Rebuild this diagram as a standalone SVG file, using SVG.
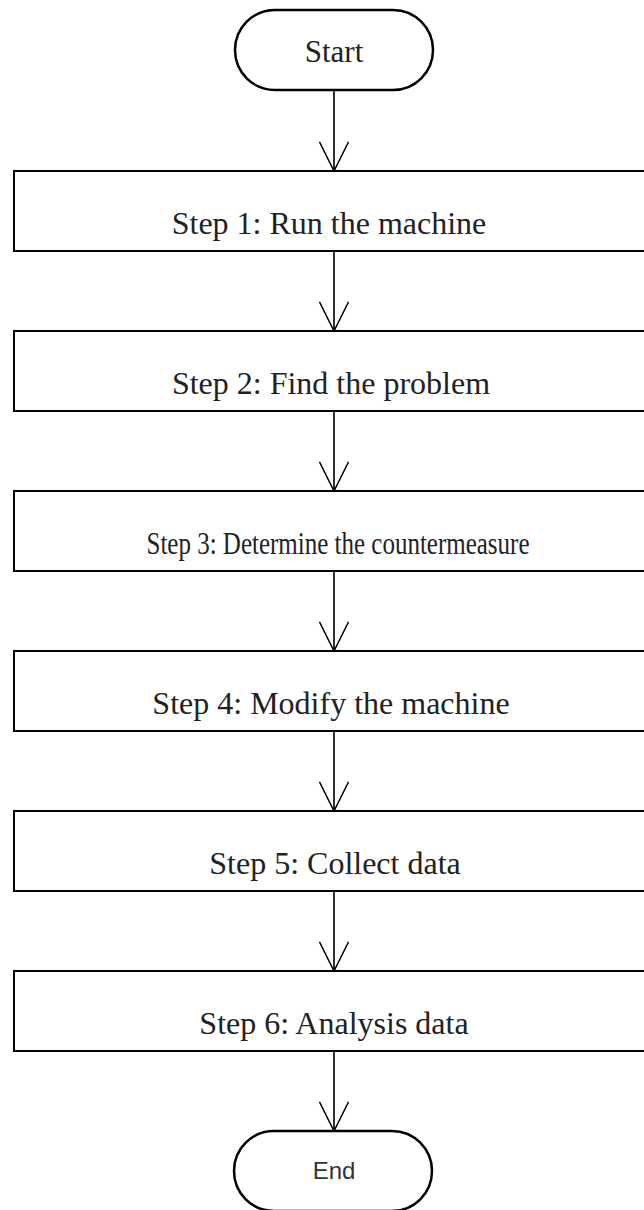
<svg xmlns="http://www.w3.org/2000/svg" width="644" height="1210" viewBox="0 0 644 1210">
<style>
.bg{fill:#ffffff}
.term{fill:#ffffff;stroke:#000;stroke-width:2.5}
.box{fill:#ffffff;stroke:#000;stroke-width:2}
.t{font-family:"Liberation Serif","Times New Roman",serif;font-size:32px;fill:#222;text-anchor:middle}
.ts{font-family:"Liberation Sans",Arial,sans-serif;font-size:24px;fill:#333;text-anchor:middle}
.c{stroke:#000;stroke-width:1.6;fill:none;marker-end:url(#ah)}
</style>
<defs>
<marker id="ah" markerUnits="userSpaceOnUse" orient="auto" refX="0" refY="0" markerWidth="40" markerHeight="40" viewBox="-40 -20 44 40" overflow="visible">
<path d="M-32,-16 L0,0 L-32,16" fill="none" stroke="#000" stroke-width="1.6"/>
</marker>
</defs>
<rect class="bg" x="0" y="0" width="644" height="1210"/>
<g id="connectors">
<line class="c" x1="334" y1="90" x2="334" y2="171"/>
<line class="c" x1="334" y1="251" x2="334" y2="331"/>
<line class="c" x1="334" y1="411" x2="334" y2="491"/>
<line class="c" x1="334" y1="571" x2="334" y2="651"/>
<line class="c" x1="334" y1="731" x2="334" y2="811"/>
<line class="c" x1="334" y1="891" x2="334" y2="971"/>
<line class="c" x1="334" y1="1051" x2="334" y2="1131"/>
</g>
<g id="start"><rect class="term" x="235" y="10" width="198" height="80" rx="40" ry="40"/><text class="t" x="334" y="62" style="font-size:31px">Start</text></g>
<g id="step1"><rect class="box" x="14" y="171" width="640" height="80"/><text class="t" x="329" y="234">Step 1: Run the machine</text></g>
<g id="step2"><rect class="box" x="14" y="331" width="640" height="80"/><text class="t" x="331" y="394">Step 2: Find the problem</text></g>
<g id="step3"><rect class="box" x="14" y="491" width="640" height="80"/><text class="t" x="338" y="554" style="font-size:31px" textLength="383" lengthAdjust="spacingAndGlyphs">Step 3: Determine the countermeasure</text></g>
<g id="step4"><rect class="box" x="14" y="651" width="640" height="80"/><text class="t" x="331" y="714">Step 4: Modify the machine</text></g>
<g id="step5"><rect class="box" x="14" y="811" width="640" height="80"/><text class="t" x="335" y="874">Step 5: Collect data</text></g>
<g id="step6"><rect class="box" x="14" y="971" width="640" height="80"/><text class="t" x="334" y="1034">Step 6: Analysis data</text></g>
<g id="end"><rect class="term" x="234" y="1131" width="198" height="80" rx="40" ry="40"/><text class="ts" x="334" y="1179">End</text></g>
</svg>
